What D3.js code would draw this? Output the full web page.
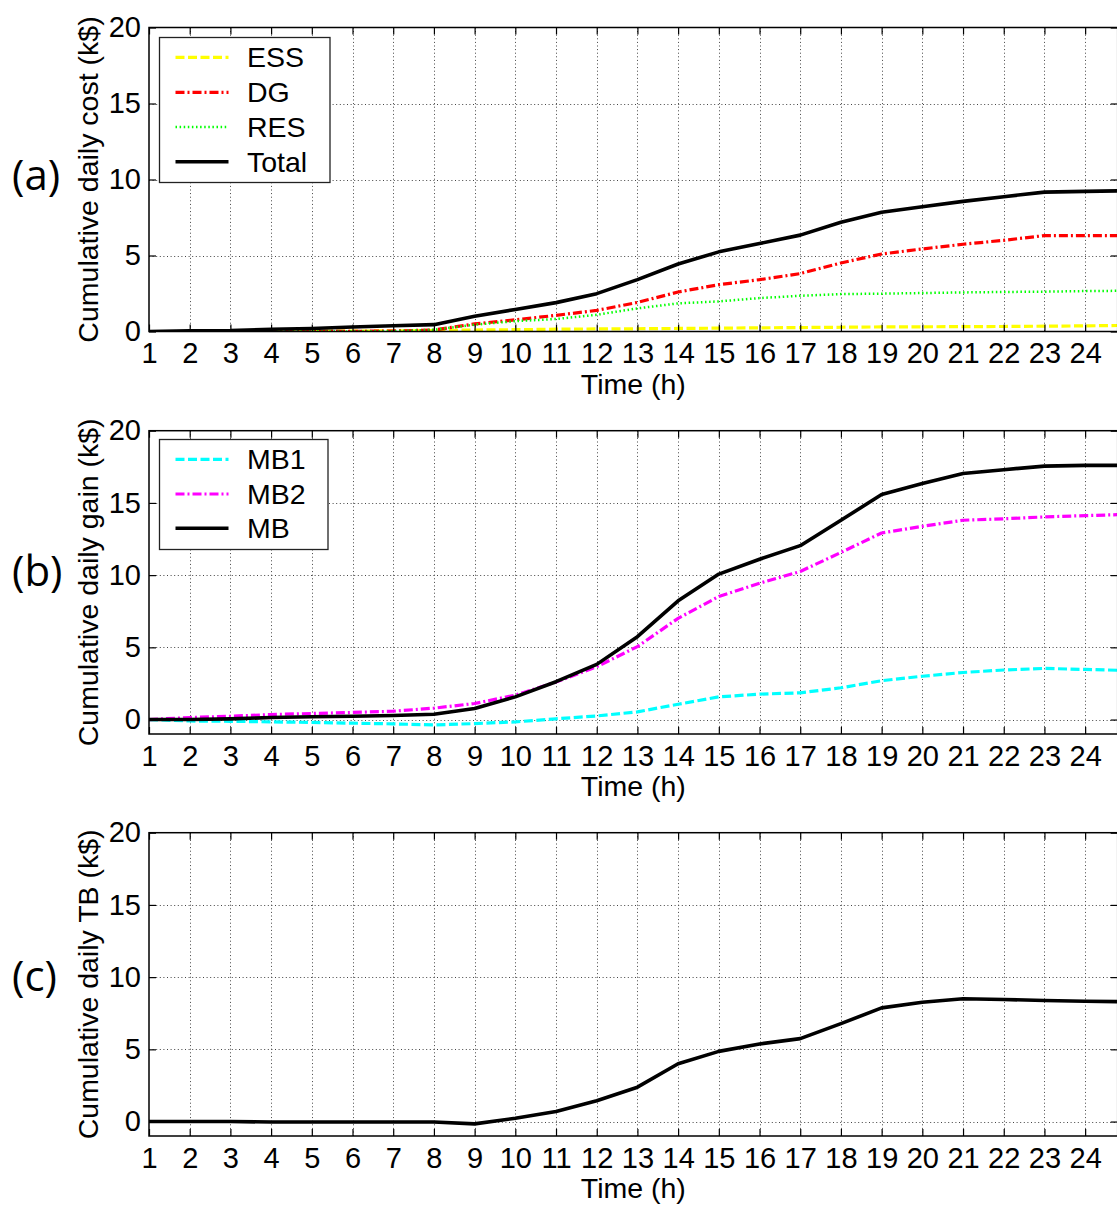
<!DOCTYPE html>
<html>
<head>
<meta charset="utf-8">
<script src="https://cdn.jsdelivr.net/npm/d3@7"></script>
<style>
  body { margin: 0; background: #fff; }
  svg { display: block; }
</style>
</head>
<body>
<svg id="chart" width="1117" height="1206"></svg>
<script>
// Hours of the day (the 25th sample only feeds the segment running off the right edge)
const hours = [1, 2, 3, 4, 5, 6, 7, 8, 9, 10, 11, 12, 13, 14, 15, 16, 17, 18, 19, 20, 21, 22, 23, 24, 25];
const xTickValues = [1, 2, 3, 4, 5, 6, 7, 8, 9, 10, 11, 12, 13, 14, 15, 16, 17, 18, 19, 20, 21, 22, 23, 24];
const yTickValues = [0, 5, 10, 15, 20];

// (a) cumulative daily cost, k$
const essCost   = [0, 0, 0, 0, 0.02, 0.03, 0.04, 0.06, 0.1, 0.12, 0.15, 0.17, 0.18, 0.2, 0.22, 0.24, 0.26, 0.28, 0.3, 0.31, 0.32, 0.33, 0.35, 0.37, 0.4];
const dgCost    = [0, 0, 0, 0, 0, 0.01, 0.03, 0.1, 0.5, 0.77, 1.06, 1.39, 1.91, 2.6, 3.08, 3.41, 3.81, 4.51, 5.1, 5.43, 5.74, 6.0, 6.31, 6.31, 6.31];
const resCost   = [0, 0, 0, 0, 0, 0, 0.02, 0.12, 0.45, 0.68, 0.82, 1.1, 1.52, 1.85, 1.98, 2.2, 2.35, 2.46, 2.49, 2.53, 2.57, 2.6, 2.62, 2.66, 2.68];
const totalCost = [0, 0.05, 0.06, 0.15, 0.2, 0.3, 0.38, 0.45, 1.0, 1.45, 1.9, 2.49, 3.41, 4.44, 5.24, 5.79, 6.34, 7.19, 7.85, 8.21, 8.56, 8.87, 9.17, 9.22, 9.26];

// (b) cumulative daily gain, k$
const mb1Gain = [0, -0.1, -0.12, -0.16, -0.2, -0.25, -0.3, -0.37, -0.28, -0.16, 0.05, 0.25, 0.53, 1.06, 1.57, 1.76, 1.85, 2.2, 2.69, 3.0, 3.26, 3.43, 3.54, 3.47, 3.4];
const mb2Gain = [0, 0.14, 0.23, 0.35, 0.42, 0.49, 0.58, 0.79, 1.11, 1.69, 2.6, 3.66, 5.05, 7.01, 8.52, 9.44, 10.25, 11.57, 12.92, 13.38, 13.8, 13.9, 14.03, 14.12, 14.2];
const mbGain  = [0, 0, 0.05, 0.14, 0.19, 0.23, 0.28, 0.37, 0.76, 1.57, 2.62, 3.82, 5.74, 8.22, 10.07, 11.1, 12.04, 13.8, 15.58, 16.34, 17.04, 17.3, 17.55, 17.6, 17.6];

// (c) cumulative daily TB, k$
const tbValue = [0, 0, 0, -0.03, -0.03, -0.03, -0.03, -0.03, -0.16, 0.23, 0.69, 1.44, 2.38, 4.0, 4.86, 5.37, 5.74, 6.78, 7.87, 8.26, 8.5, 8.45, 8.38, 8.33, 8.3];

const FONT = "'Liberation Sans', Arial, Helvetica, sans-serif";
const TAG_FONT = "'Open Sans', 'Noto Sans', sans-serif";
const TICK_SIZE = 29;
const TITLE_SIZE = 28.5;

const svg = d3.select("#chart");
const plotLeft = 149, plotRight = 1117.7;
const x = d3.scaleLinear().domain([1, 24.8]).range([plotLeft, plotRight]);

const styles = {
  ess:   { color: "#ffff00", width: 3.2, dash: "9,3.5" },
  dg:    { color: "#ff0000", width: 3.2, dash: "9,3,2,3" },
  res:   { color: "#00ff00", width: 2.5, dash: "1.5,2.6" },
  solid: { color: "#000000", width: 3.6, dash: null },
  mb1:   { color: "#00ffff", width: 3.2, dash: "9,3.5" },
  mb2:   { color: "#ff00ff", width: 3.2, dash: "9,3,2,3" }
};

const panels = [
  {
    key: "a", tag: "(a)", tagY: 190, yTitle: "Cumulative daily cost (k$)",
    top: 27.5, bottom: 331.5, yMin: 0,
    series: [
      { name: "ESS",   values: essCost,   style: styles.ess },
      { name: "DG",    values: dgCost,    style: styles.dg },
      { name: "RES",   values: resCost,   style: styles.res },
      { name: "Total", values: totalCost, style: styles.solid }
    ],
    legend: { x: 159.5, y: 37.5, w: 170.5, h: 145, rowY: [57.3, 92.3, 127, 161.7] }
  },
  {
    key: "b", tag: "(b)", tagY: 586, yTitle: "Cumulative daily gain (k$)",
    top: 430.7, bottom: 734, yMin: -1,
    series: [
      { name: "MB1", values: mb1Gain, style: styles.mb1 },
      { name: "MB2", values: mb2Gain, style: styles.mb2 },
      { name: "MB",  values: mbGain,  style: styles.solid }
    ],
    legend: { x: 159.5, y: 439.5, w: 168.5, h: 110, rowY: [459.3, 494, 528.3] }
  },
  {
    key: "c", tag: "(c)", tagY: 991, yTitle: "Cumulative daily TB (k$)",
    top: 832.7, bottom: 1136, yMin: -1,
    series: [
      { name: "TB", values: tbValue, style: styles.solid }
    ],
    legend: null
  }
];

panels.forEach(p => {
  const y = d3.scaleLinear().domain([p.yMin, 20]).range([p.bottom, p.top]);
  const g = svg.append("g").attr("class", "panel-" + p.key);

  g.append("clipPath").attr("id", "clip-" + p.key)
    .append("rect")
    .attr("x", plotLeft).attr("y", p.top)
    .attr("width", plotRight - plotLeft).attr("height", p.bottom - p.top);

  // dotted grid
  const grid = g.append("g").attr("class", "grid")
    .attr("stroke", "#444").attr("stroke-width", 1)
    .attr("stroke-dasharray", "1,2.6");
  grid.selectAll("line.v").data(xTickValues.slice(1)).join("line")
    .attr("class", "v")
    .attr("x1", d => Math.round(x(d)) + 0.5).attr("x2", d => Math.round(x(d)) + 0.5)
    .attr("y1", p.top).attr("y2", p.bottom);
  grid.selectAll("line.h").data(yTickValues.filter(v => y(v) < p.bottom - 1 && y(v) > p.top + 1)).join("line")
    .attr("class", "h")
    .attr("x1", plotLeft).attr("x2", plotRight)
    .attr("y1", d => Math.round(y(d)) + 0.5).attr("y2", d => Math.round(y(d)) + 0.5);

  // series lines
  const line = d3.line().x((d, i) => x(hours[i])).y(d => y(d));
  const lines = g.append("g").attr("clip-path", "url(#clip-" + p.key + ")");
  p.series.forEach(s => {
    lines.append("path")
      .datum(s.values)
      .attr("d", line)
      .attr("fill", "none")
      .attr("stroke", s.style.color)
      .attr("stroke-width", s.style.width)
      .attr("stroke-dasharray", s.style.dash)
      .attr("stroke-linejoin", "round");
  });

  // axes with inward ticks on all four sides
  const styleAxis = sel => {
    sel.select(".domain").remove();
    sel.selectAll(".tick line").attr("stroke", "#000").attr("stroke-width", 1.2);
    sel.selectAll(".tick text").attr("fill", "#000").style("font-family", FONT).style("font-size", TICK_SIZE + "px");
  };
  g.append("g").attr("transform", `translate(0,${p.bottom})`)
    .call(d3.axisBottom(x).tickValues(xTickValues).tickSize(-7).tickPadding(11).tickFormat(d3.format("d")))
    .call(styleAxis);
  g.append("g").attr("transform", `translate(0,${p.top})`)
    .call(d3.axisTop(x).tickValues(xTickValues).tickSize(-7).tickFormat(""))
    .call(styleAxis);
  g.append("g").attr("transform", `translate(${plotLeft},0)`)
    .call(d3.axisLeft(y).tickValues(yTickValues).tickSize(-7).tickPadding(8).tickFormat(d3.format("d")))
    .call(styleAxis);
  g.append("g").attr("transform", `translate(${plotRight},0)`)
    .call(d3.axisRight(y).tickValues(yTickValues).tickSize(-7).tickFormat(""))
    .call(styleAxis);

  // frame
  g.append("rect")
    .attr("x", plotLeft).attr("y", p.top)
    .attr("width", plotRight - plotLeft).attr("height", p.bottom - p.top)
    .attr("fill", "none").attr("stroke", "#000").attr("stroke-width", 1.5);

  // axis titles
  g.append("text")
    .attr("x", (plotLeft + plotRight) / 2).attr("y", p.bottom + 62)
    .attr("text-anchor", "middle")
    .style("font-family", FONT).style("font-size", TITLE_SIZE + "px")
    .text("Time (h)");
  g.append("text")
    .attr("transform", `translate(98,${(p.top + p.bottom) / 2}) rotate(-90)`)
    .attr("text-anchor", "middle")
    .style("font-family", FONT).style("font-size", TITLE_SIZE + "px")
    .text(p.yTitle);

  // panel tag
  g.append("text")
    .attr("x", 12).attr("y", p.tagY)
    .style("font-family", TAG_FONT).style("font-size", "42px")
    .text(p.tag);

  // legend
  if (p.legend) {
    const L = p.legend;
    const lg = g.append("g").attr("class", "legend");
    lg.append("rect")
      .attr("x", L.x).attr("y", L.y).attr("width", L.w).attr("height", L.h)
      .attr("fill", "#fff").attr("stroke", "#222").attr("stroke-width", 1.3);
    p.series.forEach((s, i) => {
      const cy = L.rowY[i];
      lg.append("line")
        .attr("x1", 175.5).attr("x2", 228.5).attr("y1", cy).attr("y2", cy)
        .attr("stroke", s.style.color).attr("stroke-width", s.style.width)
        .attr("stroke-dasharray", s.style.dash);
      lg.append("text")
        .attr("x", 247).attr("y", cy + 10)
        .style("font-family", FONT).style("font-size", TITLE_SIZE + "px")
        .text(s.name);
    });
  }
});
</script>
</body>
</html>
